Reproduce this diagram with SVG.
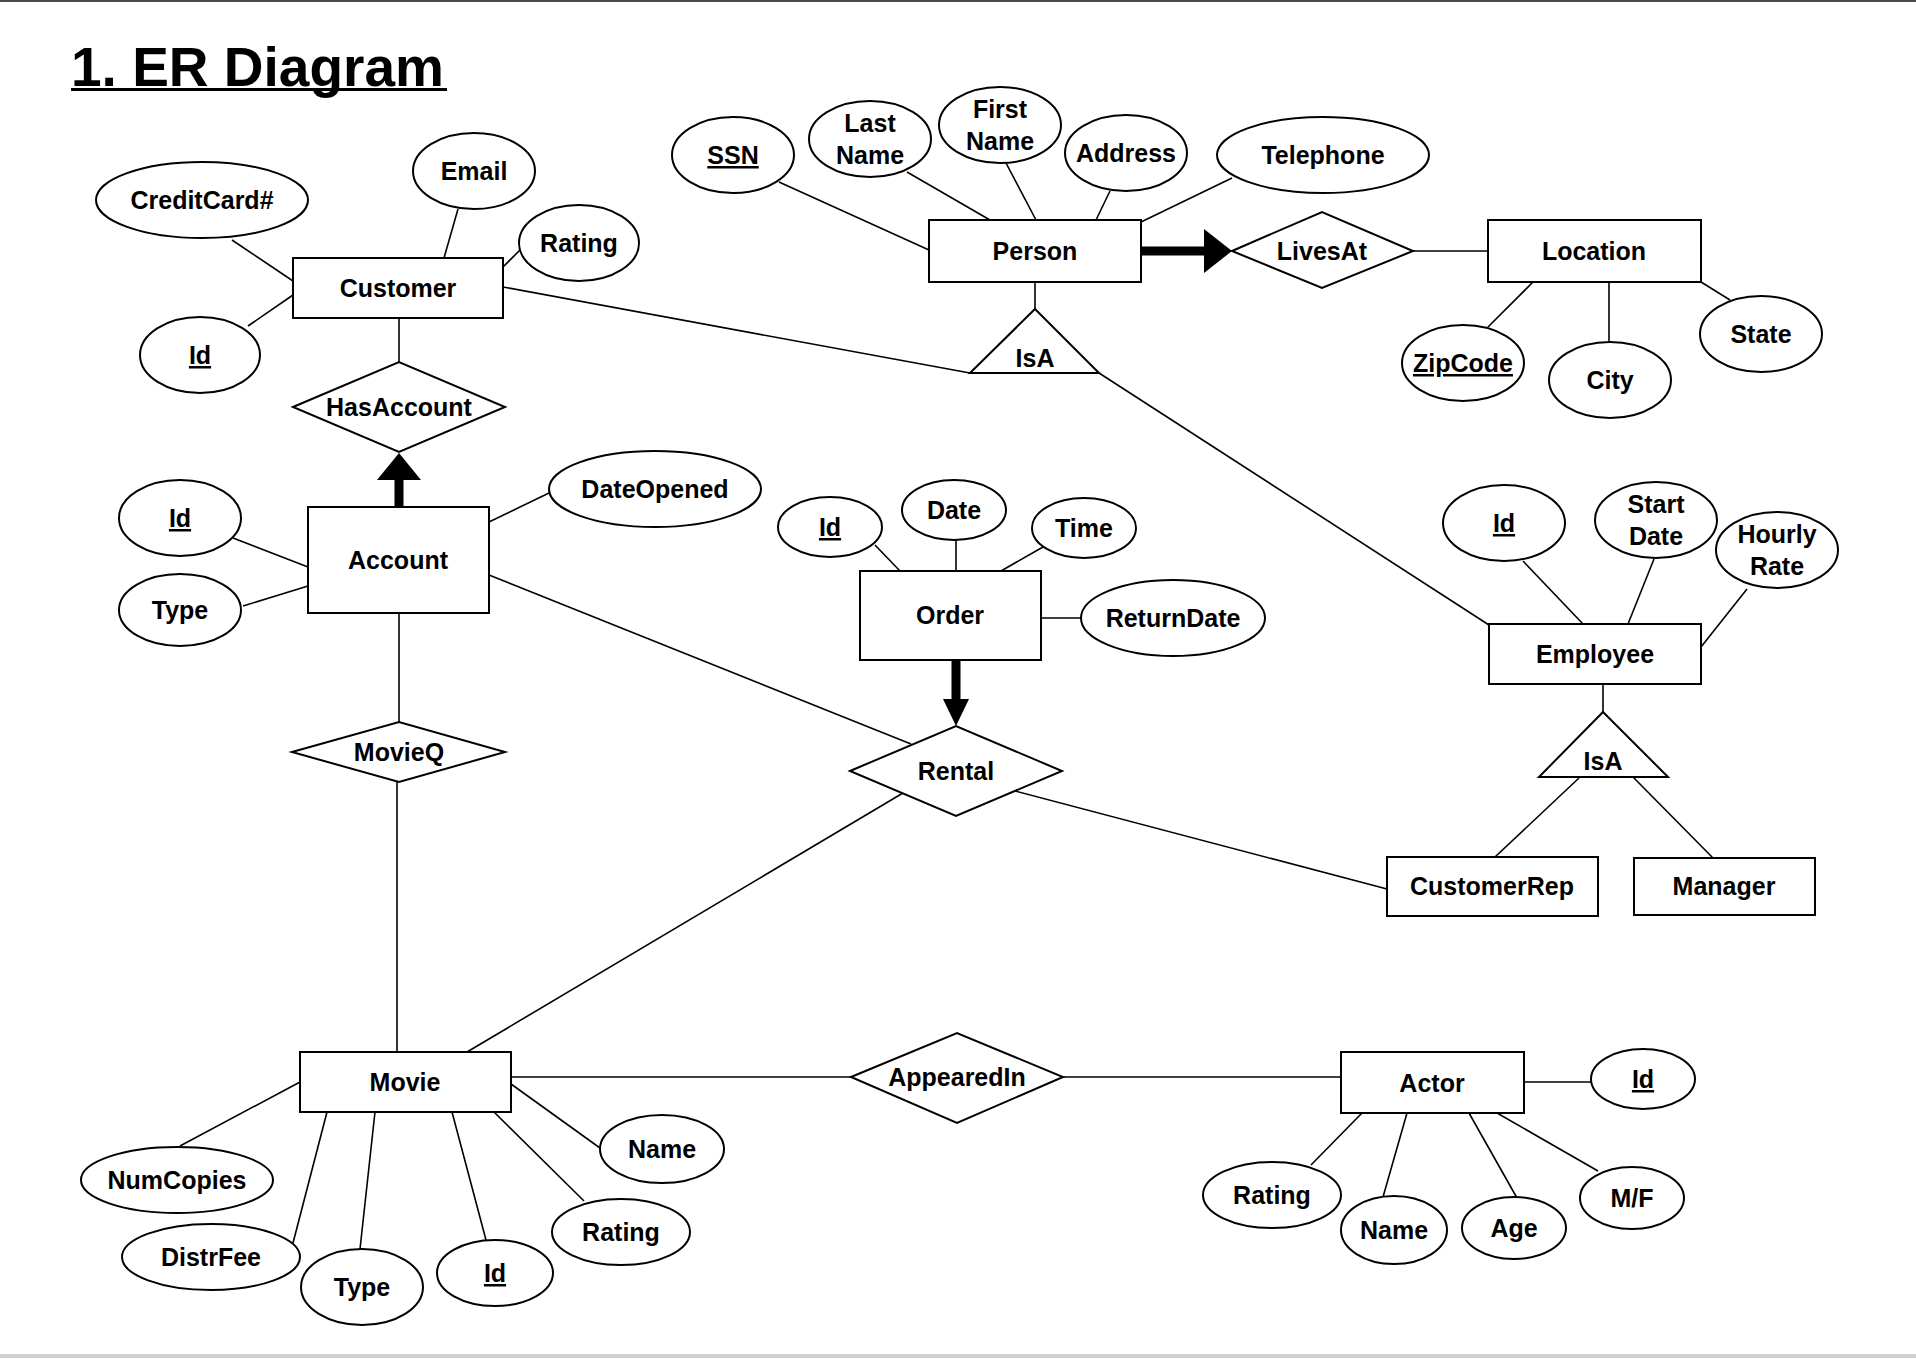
<svg xmlns="http://www.w3.org/2000/svg" width="1916" height="1358" viewBox="0 0 1916 1358">
<style>
text{font-family:"Liberation Sans",Arial,sans-serif;font-weight:bold;font-size:25px;fill:#000;text-anchor:middle}
.title{font-size:55px;text-anchor:start}
.key{text-decoration:underline}
rect.e{fill:#fff;stroke:#000;stroke-width:2}
ellipse{fill:#fff;stroke:#000;stroke-width:2}
polygon.r{fill:#fff;stroke:#000;stroke-width:2}
#connectors line{stroke:#000;stroke-width:1.6}
.head{fill:#000;stroke:none}
</style>
<rect x="0" y="0" width="1916" height="1358" fill="#fff"/>
<rect x="0" y="0" width="1916" height="2" fill="#4a4a4a"/>
<rect x="0" y="1354" width="1916" height="4" fill="#d0d0d0"/>
<text class="title" x="71" y="86">1. ER Diagram</text>
<rect x="71" y="88" width="376" height="3" fill="#000"/>

<g id="connectors">
  <!-- Customer -->
  <line x1="232" y1="240" x2="293" y2="281"/>
  <line x1="458" y1="209" x2="444" y2="258"/>
  <line x1="520" y1="250" x2="503" y2="267"/>
  <line x1="248" y1="326" x2="293" y2="295"/>
  <line x1="399" y1="318" x2="399" y2="362"/>
  <line x1="503" y1="287" x2="970" y2="373"/>
  <!-- Person -->
  <line x1="779" y1="182" x2="929" y2="250"/>
  <line x1="907" y1="172" x2="990" y2="220"/>
  <line x1="1006" y1="163" x2="1036" y2="220"/>
  <line x1="1110" y1="191" x2="1096" y2="220"/>
  <line x1="1232" y1="178" x2="1141" y2="222"/>
  <line x1="1035" y1="282" x2="1035" y2="309"/>
  <line x1="1099" y1="373" x2="1489" y2="625"/>
  <rect class="head" x="1141" y="246.5" width="66" height="9"/>
  <polygon class="head" points="1204,229 1204,273 1232,251"/>
  <line x1="1413" y1="251" x2="1488" y2="251"/>
  <!-- Location -->
  <line x1="1533" y1="282" x2="1488" y2="327"/>
  <line x1="1609" y1="282" x2="1609" y2="342"/>
  <line x1="1701" y1="282" x2="1730" y2="300"/>
  <!-- Account -->
  <rect class="head" x="394.5" y="477" width="9" height="30"/>
  <polygon class="head" points="377,480 421,480 399,453"/>
  <line x1="233" y1="538" x2="308" y2="567"/>
  <line x1="243" y1="606" x2="308" y2="586"/>
  <line x1="489" y1="522" x2="549" y2="493"/>
  <line x1="489" y1="575" x2="911" y2="744"/>
  <line x1="399" y1="613" x2="399" y2="722"/>
  <line x1="397" y1="782" x2="397" y2="1052"/>
  <!-- Order -->
  <line x1="875" y1="545" x2="900" y2="571"/>
  <line x1="956" y1="540" x2="956" y2="571"/>
  <line x1="1043" y1="547" x2="1001" y2="571"/>
  <line x1="1041" y1="618" x2="1081" y2="618"/>
  <rect class="head" x="951.5" y="660" width="9" height="41"/>
  <polygon class="head" points="943,699 969,699 956,726"/>
  <!-- Rental -->
  <line x1="1015" y1="791" x2="1387" y2="889"/>
  <line x1="903" y1="793" x2="467" y2="1052"/>
  <!-- Employee -->
  <line x1="1523" y1="561" x2="1583" y2="624"/>
  <line x1="1654" y1="559" x2="1628" y2="624"/>
  <line x1="1747" y1="589" x2="1701" y2="647"/>
  <line x1="1603" y1="684" x2="1603" y2="712"/>
  <line x1="1579" y1="778" x2="1495" y2="857"/>
  <line x1="1633" y1="777" x2="1713" y2="858"/>
  <!-- Movie -->
  <line x1="180" y1="1146" x2="300" y2="1082"/>
  <line x1="293" y1="1243" x2="327" y2="1112"/>
  <line x1="360" y1="1249" x2="375" y2="1112"/>
  <line x1="486" y1="1240" x2="452" y2="1112"/>
  <line x1="584" y1="1201" x2="494" y2="1112"/>
  <line x1="600" y1="1148" x2="511" y2="1084"/>
  <line x1="511" y1="1077" x2="851" y2="1077"/>
  <line x1="1063" y1="1077" x2="1341" y2="1077"/>
  <!-- Actor -->
  <line x1="1524" y1="1082" x2="1591" y2="1082"/>
  <line x1="1362" y1="1113" x2="1311" y2="1165"/>
  <line x1="1407" y1="1113" x2="1383" y2="1197"/>
  <line x1="1469" y1="1113" x2="1517" y2="1198"/>
  <line x1="1497" y1="1113" x2="1598" y2="1171"/>
</g>

<g id="customer"><rect class="e" x="293" y="258" width="210" height="60"/><text x="398" y="297">Customer</text></g>
<g id="customer-creditcard"><ellipse cx="202" cy="200" rx="106" ry="38"/><text x="202" y="209">CreditCard#</text></g>
<g id="customer-email"><ellipse cx="474" cy="171" rx="61" ry="38"/><text x="474" y="180">Email</text></g>
<g id="customer-rating"><ellipse cx="579" cy="243" rx="60" ry="38"/><text x="579" y="252">Rating</text></g>
<g id="customer-id"><ellipse cx="200" cy="355" rx="60" ry="38"/><text class="key" x="200" y="364">Id</text></g>
<g id="hasaccount"><polygon class="r" points="293,407 399,362 505,407 399,452"/><text x="399" y="416">HasAccount</text></g>

<g id="person"><rect class="e" x="929" y="220" width="212" height="62"/><text x="1035" y="260">Person</text></g>
<g id="person-ssn"><ellipse cx="733" cy="155" rx="61" ry="38"/><text class="key" x="733" y="164">SSN</text></g>
<g id="person-lastname"><ellipse cx="870" cy="139" rx="61" ry="38"/><text x="870" y="132">Last</text><text x="870" y="164">Name</text></g>
<g id="person-firstname"><ellipse cx="1000" cy="125" rx="61" ry="38"/><text x="1000" y="118">First</text><text x="1000" y="150">Name</text></g>
<g id="person-address"><ellipse cx="1126" cy="153" rx="61" ry="38"/><text x="1126" y="162">Address</text></g>
<g id="person-telephone"><ellipse cx="1323" cy="155" rx="106" ry="38"/><text x="1323" y="164">Telephone</text></g>
<g id="isa-person"><polygon class="r" points="1035,309 1099,373 970,373"/><text x="1035" y="367">IsA</text></g>
<g id="livesat"><polygon class="r" points="1232,251 1322,212 1413,251 1322,288"/><text x="1322" y="260">LivesAt</text></g>

<g id="location"><rect class="e" x="1488" y="220" width="213" height="62"/><text x="1594" y="260">Location</text></g>
<g id="location-zipcode"><ellipse cx="1463" cy="363" rx="61" ry="38"/><text class="key" x="1463" y="372">ZipCode</text></g>
<g id="location-city"><ellipse cx="1610" cy="380" rx="61" ry="38"/><text x="1610" y="389">City</text></g>
<g id="location-state"><ellipse cx="1761" cy="334" rx="61" ry="38"/><text x="1761" y="343">State</text></g>

<g id="account"><rect class="e" x="308" y="507" width="181" height="106"/><text x="398" y="569">Account</text></g>
<g id="account-id"><ellipse cx="180" cy="518" rx="61" ry="38"/><text class="key" x="180" y="527">Id</text></g>
<g id="account-type"><ellipse cx="180" cy="610" rx="61" ry="36"/><text x="180" y="619">Type</text></g>
<g id="account-dateopened"><ellipse cx="655" cy="489" rx="106" ry="38"/><text x="655" y="498">DateOpened</text></g>
<g id="movieq"><polygon class="r" points="292,752 399,722 505,752 399,782"/><text x="399" y="761">MovieQ</text></g>

<g id="order"><rect class="e" x="860" y="571" width="181" height="89"/><text x="950" y="624">Order</text></g>
<g id="order-id"><ellipse cx="830" cy="527" rx="52" ry="30"/><text class="key" x="830" y="536">Id</text></g>
<g id="order-date"><ellipse cx="954" cy="510" rx="52" ry="30"/><text x="954" y="519">Date</text></g>
<g id="order-time"><ellipse cx="1084" cy="528" rx="52" ry="30"/><text x="1084" y="537">Time</text></g>
<g id="order-returndate"><ellipse cx="1173" cy="618" rx="92" ry="38"/><text x="1173" y="627">ReturnDate</text></g>
<g id="rental"><polygon class="r" points="850,771 956,726 1062,771 956,816"/><text x="956" y="780">Rental</text></g>

<g id="employee"><rect class="e" x="1489" y="624" width="212" height="60"/><text x="1595" y="663">Employee</text></g>
<g id="employee-id"><ellipse cx="1504" cy="523" rx="61" ry="38"/><text class="key" x="1504" y="532">Id</text></g>
<g id="employee-startdate"><ellipse cx="1656" cy="520" rx="61" ry="38"/><text x="1656" y="513">Start</text><text x="1656" y="545">Date</text></g>
<g id="employee-hourlyrate"><ellipse cx="1777" cy="550" rx="61" ry="38"/><text x="1777" y="543">Hourly</text><text x="1777" y="575">Rate</text></g>
<g id="isa-employee"><polygon class="r" points="1603,712 1668,777 1539,777"/><text x="1603" y="770">IsA</text></g>
<g id="customerrep"><rect class="e" x="1387" y="857" width="211" height="59"/><text x="1492" y="895">CustomerRep</text></g>
<g id="manager"><rect class="e" x="1634" y="858" width="181" height="57"/><text x="1724" y="895">Manager</text></g>

<g id="movie"><rect class="e" x="300" y="1052" width="211" height="60"/><text x="405" y="1091">Movie</text></g>
<g id="movie-numcopies"><ellipse cx="177" cy="1180" rx="96" ry="33"/><text x="177" y="1189">NumCopies</text></g>
<g id="movie-distrfee"><ellipse cx="211" cy="1257" rx="89" ry="33"/><text x="211" y="1266">DistrFee</text></g>
<g id="movie-type"><ellipse cx="362" cy="1287" rx="61" ry="38"/><text x="362" y="1296">Type</text></g>
<g id="movie-id"><ellipse cx="495" cy="1273" rx="58" ry="33"/><text class="key" x="495" y="1282">Id</text></g>
<g id="movie-rating"><ellipse cx="621" cy="1232" rx="69" ry="33"/><text x="621" y="1241">Rating</text></g>
<g id="movie-name"><ellipse cx="662" cy="1149" rx="62" ry="34"/><text x="662" y="1158">Name</text></g>
<g id="appearedin"><polygon class="r" points="851,1077 957,1033 1063,1077 957,1123"/><text x="957" y="1086">AppearedIn</text></g>

<g id="actor"><rect class="e" x="1341" y="1052" width="183" height="61"/><text x="1432" y="1092">Actor</text></g>
<g id="actor-id"><ellipse cx="1643" cy="1079" rx="52" ry="30"/><text class="key" x="1643" y="1088">Id</text></g>
<g id="actor-rating"><ellipse cx="1272" cy="1195" rx="69" ry="33"/><text x="1272" y="1204">Rating</text></g>
<g id="actor-name"><ellipse cx="1394" cy="1230" rx="53" ry="34"/><text x="1394" y="1239">Name</text></g>
<g id="actor-age"><ellipse cx="1514" cy="1228" rx="52" ry="31"/><text x="1514" y="1237">Age</text></g>
<g id="actor-mf"><ellipse cx="1632" cy="1198" rx="52" ry="31"/><text x="1632" y="1207">M/F</text></g>
</svg>
